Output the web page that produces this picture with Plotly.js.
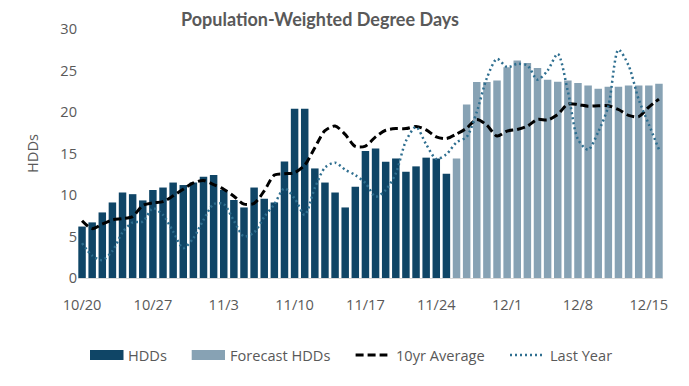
<!DOCTYPE html>
<html>
<head>
<meta charset="utf-8">
<script src="https://cdn.plot.ly/plotly-3.0.1.min.js"></script>
<style>
  html, body { margin: 0; padding: 0; background: #ffffff; }
  #chart { width: 689px; height: 386px; }
</style>
</head>
<body>
<div id="chart"></div>
<script>
// ---- Data ----
const days = [
  "10/20","10/21","10/22","10/23","10/24","10/25","10/26","10/27","10/28","10/29","10/30","10/31",
  "11/1","11/2","11/3","11/4","11/5","11/6","11/7","11/8","11/9","11/10","11/11","11/12","11/13",
  "11/14","11/15","11/16","11/17","11/18","11/19","11/20","11/21","11/22","11/23","11/24","11/25",
  "11/26","11/27","11/28","11/29","11/30","12/1","12/2","12/3","12/4","12/5","12/6","12/7","12/8",
  "12/9","12/10","12/11","12/12","12/13","12/14","12/15","12/16"
];
const hddDays = days.slice(0, 37);
const forecastDays = days.slice(37);

const hdds = [6.2, 6.7, 7.9, 9.1, 10.3, 10.1, 9.35, 10.6, 10.9, 11.5, 11.2, 11.5, 12.2, 12.4,
  10.6, 9.4, 8.5, 10.9, 9.55, 9.1, 14.05, 20.4, 20.4, 13.2, 11.5, 10.3, 8.5, 11.0, 15.3, 15.6,
  14.0, 14.4, 12.8, 13.45, 14.5, 14.4, 12.55];

const forecastHdds = [14.4, 20.9, 23.6, 23.6, 23.8, 25.4, 26.2, 25.9, 25.3, 23.9, 23.65, 23.8,
  23.5, 23.2, 22.8, 23.05, 23.05, 23.2, 23.2, 23.2, 23.4];

const tenYrAvg = [6.9, 5.95, 6.5, 7.0, 7.15, 7.4, 8.75, 9.05, 9.2, 9.9, 10.7, 11.45, 11.75, 11.25,
  10.7, 9.85, 8.9, 9.0, 10.5, 12.4, 12.55, 12.7, 13.6, 15.7, 17.75, 18.3, 17.3, 15.85, 15.9, 17.0,
  17.8, 18.0, 18.0, 18.25, 17.85, 17.0, 16.8, 17.35, 18.05, 19.1, 18.4, 17.1, 17.7, 17.9, 18.3,
  19.1, 19.05, 19.7, 20.95, 20.9, 20.7, 20.75, 20.75, 20.3, 19.6, 19.45, 20.6, 21.55];

const lastYear = [4.2, 2.7, 2.15, 3.25, 5.5, 6.7, 6.8, 8.4, 7.6, 5.6, 3.6, 4.8, 7.0, 8.9, 8.9,
  6.9, 5.0, 5.5, 7.35, 8.9, 10.8, 9.6, 7.6, 10.85, 13.3, 13.9, 13.05, 12.4, 11.45, 9.8, 10.6,
  12.6, 16.5, 18.2, 16.1, 14.35, 14.9, 16.35, 17.0, 20.0, 24.1, 26.4, 25.4, 25.8, 25.6, 23.9,
  25.0, 27.0, 22.5, 16.7, 15.45, 17.6, 20.7, 27.5, 25.6, 21.5, 18.5, 15.5];

const tickLabels = ["10/20","10/27","11/3","11/10","11/17","11/24","12/1","12/8","12/15"];
const seriesNames = ["HDDs", "Forecast HDDs", "10yr Average", "Last Year"];

// ---- Styles ----
const cHdd = "#0F4566";
const cFc = "#87A2B4";
const cLast = "#2F6F90";
const txt = "#595959";
const fontFam = "'Open Sans', 'Noto Sans', sans-serif";
const titleFam = "Lato, 'Open Sans', sans-serif";
const dashAvg = "8px,4px";
const dashLast = "2px,3px";

const traces = [
  { type: "bar", x: hddDays, y: hdds, name: seriesNames[0], marker: { color: cHdd } },
  { type: "bar", x: forecastDays, y: forecastHdds, name: seriesNames[1], marker: { color: cFc } },
  { type: "scatter", mode: "lines", x: days, y: tenYrAvg, name: seriesNames[2],
    line: { color: "#000000", width: 3, dash: dashAvg, shape: "spline", smoothing: 0.8 } },
  { type: "scatter", mode: "lines", x: days, y: lastYear, name: seriesNames[3],
    line: { color: cLast, width: 2.5, dash: dashLast, shape: "spline", smoothing: 0.8 } }
];

// ---- Custom legend (swatches + labels placed under the plot) ----
const L = 78, PW = 585, B = 278, PH = 249;   // plot area in px
const px = v => (v - L) / PW;
const py = v => (B - v) / PH;
const legY = 355;
const legendItems = [
  { kind: "rect", x0: 90, x1: 123.5, color: cHdd, textX: 126, label: seriesNames[0] },
  { kind: "rect", x0: 191.7, x1: 225, color: cFc, textX: 228, label: seriesNames[1] },
  { kind: "line", x0: 355.6, x1: 387.4, color: "#000000", width: 3, dash: dashAvg, textX: 393.5, label: seriesNames[2] },
  { kind: "line", x0: 510, x1: 542, color: cLast, width: 2.5, dash: dashLast, textX: 547.5, label: seriesNames[3] }
];
const shapes = [];
const annotations = [];
legendItems.forEach(it => {
  if (it.kind === "rect") {
    shapes.push({ type: "rect", xref: "paper", yref: "paper", x0: px(it.x0), x1: px(it.x1),
      y0: py(legY + 5), y1: py(legY - 5), fillcolor: it.color, line: { width: 0 } });
  } else {
    shapes.push({ type: "line", xref: "paper", yref: "paper", x0: px(it.x0), x1: px(it.x1),
      y0: py(legY), y1: py(legY), line: { color: it.color, width: it.width, dash: it.dash } });
  }
  annotations.push({ text: it.label, xref: "paper", yref: "paper", x: px(it.textX), y: py(legY),
    xanchor: "left", yanchor: "middle", showarrow: false,
    font: { family: fontFam, size: 14.6, color: txt } });
});

const layout = {
  width: 689, height: 386,
  margin: { l: L, r: 26, t: 29, b: 108 },
  paper_bgcolor: "#ffffff", plot_bgcolor: "#ffffff",
  font: { family: fontFam, color: txt, size: 14 },
  title: { text: "<b>Population-Weighted Degree Days</b>", font: { family: titleFam, size: 18, color: txt },
           x: 320 / 689, xref: "container", xanchor: "center", y: 1 - 20 / 386, yref: "container", yanchor: "middle" },
  bargap: 0.26,
  barmode: "overlay",
  showlegend: false,
  shapes: shapes,
  annotations: annotations,
  xaxis: {
    type: "category", categoryorder: "array", categoryarray: days,
    range: [-0.4, 57.4], tickmode: "array", tickvals: tickLabels, ticktext: tickLabels,
    showgrid: false, zeroline: false, showline: true, linecolor: "#D9D9D9", linewidth: 1,
    ticks: "", ticklabelstandoff: 13, tickfont: { size: 14.6, color: txt }, fixedrange: true
  },
  yaxis: {
    range: [0, 30], dtick: 5, tick0: 0, showgrid: false, zeroline: false, showline: false,
    ticks: "", ticklabelstandoff: 0, tickfont: { size: 14.6, color: txt },
    title: { text: "HDDs", font: { size: 14.6, color: txt }, standoff: 18 }, fixedrange: true
  }
};

Plotly.newPlot("chart", traces, layout, { displayModeBar: false, staticPlot: true });
</script>
</body>
</html>
